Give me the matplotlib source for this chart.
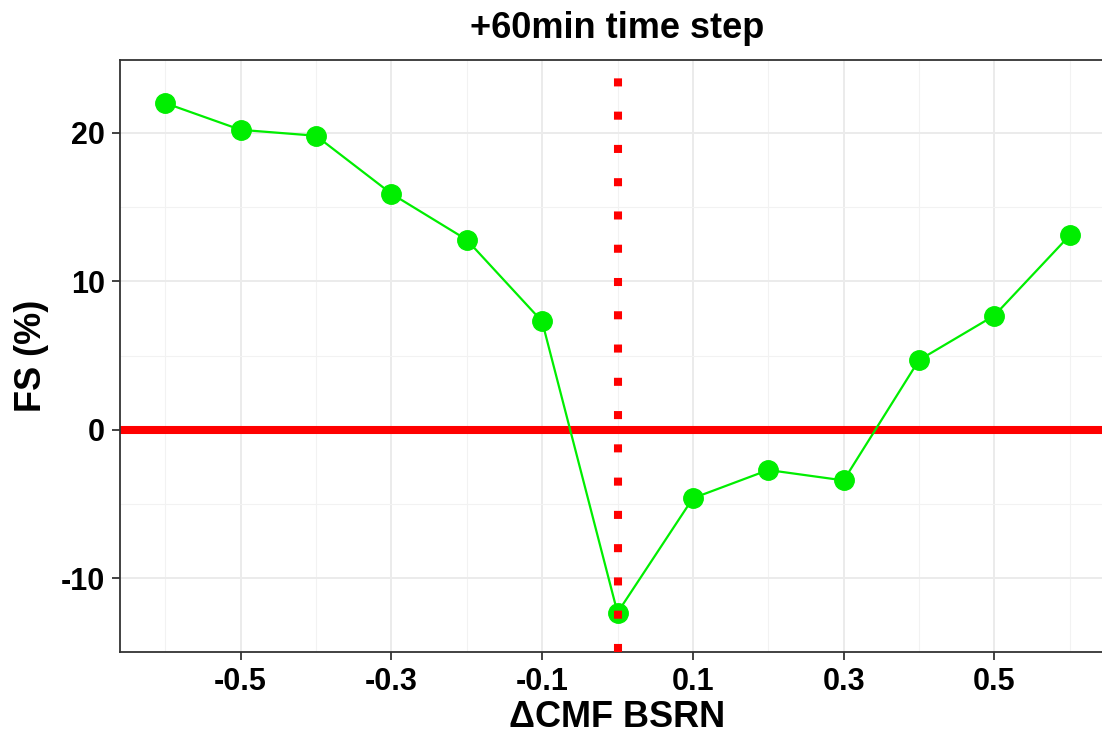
import matplotlib.pyplot as plt
import numpy as np

plt.rcParams['font.family'] = ['Liberation Sans', 'DejaVu Sans']
plt.rcParams['font.weight'] = 'bold'
plt.rcParams['axes.unicode_minus'] = False

# daten
delta_cmf = [-0.6, -0.5, -0.4, -0.3, -0.2, -0.1, 0.0, 0.1, 0.2, 0.3, 0.4, 0.5, 0.6]
fs_pct = [22.0, 20.2, 19.8, 15.9, 12.8, 7.3, -12.3, -4.6, -2.7, -3.4, 4.7, 7.7, 13.1]
x_major = [-0.5, -0.3, -0.1, 0.1, 0.3, 0.5]
x_minor = [-0.6, -0.4, -0.2, 0.0, 0.2, 0.4, 0.6]
y_major = [-10, 0, 10, 20]
y_minor = [-5, 5, 15]

W, H = 1102, 733
fig = plt.figure(figsize=(W / 100, H / 100), dpi=100)
ax = fig.add_axes([120 / W, 1 - 652 / H, 995 / W, 592 / H])

ax.axhline(0, color='#ff0000', lw=5.8, zorder=2)
ax.plot(delta_cmf, fs_pct, color='#00ee00', lw=1.6, marker='o', ms=14,
        mfc='#00ee00', mec='#00ee00', zorder=3)
ax.axvline(0, color='#ff0000', lw=5.8, ls=(0, (1, 3.13)), zorder=4)

ax.set_xlim(-0.66, 0.66)
ax.set_ylim(-14.95, 24.9)
ax.set_xticks(x_major)
ax.set_xticklabels([f'{v:.1f}' for v in x_major])
ax.set_xticks(x_minor, minor=True)
ax.set_yticks(y_major)
ax.set_yticklabels([str(v) for v in y_major])
ax.set_yticks(y_minor, minor=True)

ax.grid(True, which='major', color='#ebebeb', lw=1.4, zorder=0)
ax.grid(True, which='minor', color='#f2f2f2', lw=0.8, zorder=0)
ax.set_axisbelow(True)
ax.tick_params(which='major', length=6, width=1.3, color='#333333',
               labelsize=22, pad=5)
ax.tick_params(which='minor', length=0)
for lbl in ax.get_xticklabels() + ax.get_yticklabels():
    lbl.set_fontweight('bold')
for s in ax.spines.values():
    s.set_color('#333333')
    s.set_linewidth(1.3)

ax.set_xlabel('ΔCMF BSRN', fontsize=26, fontweight='bold', labelpad=2)
ax.set_ylabel('FS (%)', fontsize=26, fontweight='bold', labelpad=8)
ax.set_title('+60min time step', fontsize=26, fontweight='bold', pad=16)

fig.savefig('out.png', dpi=100)
